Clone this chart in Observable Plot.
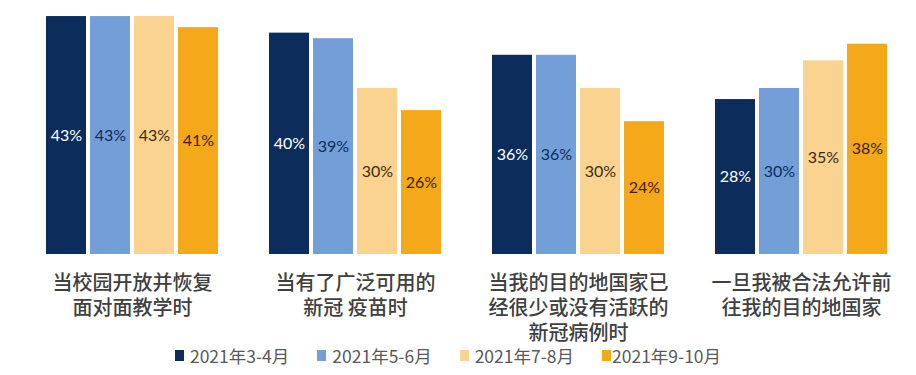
<!DOCTYPE html>
<html>
<head>
<meta charset="utf-8">
<script src="https://cdn.jsdelivr.net/npm/d3@7"></script>
<script src="https://cdn.jsdelivr.net/npm/@observablehq/plot@0.6"></script>
<style>
  html, body { margin: 0; padding: 0; background: #fff; }
  #chart { width: 916px; }
  .legend { display: flex; justify-content: center; align-items: center; height: 20px;
    font-family: "Noto Sans CJK SC", "Noto Sans", sans-serif; font-size: 17.5px; color: #595959; padding-right: 20px; }
  .legend .item { display: flex; align-items: center; margin: 0 14px; }
  .legend .sw { width: 9px; height: 11px; margin-right: 6px; }
  .legend .item:last-child .sw { margin-right: 1px; }
</style>
</head>
<body>
<div id="chart"></div>
<script>
const categories = [
  "当校园开放并恢复\n面对面教学时",
  "当有了广泛可用的\n新冠 疫苗时",
  "当我的目的地国家已\n经很少或没有活跃的\n新冠病例时",
  "一旦我被合法允许前\n往我的目的地国家"
];
const periods = ["2021年3-4月", "2021年5-6月", "2021年7-8月", "2021年9-10月"];
const colors = ["#0c2d5c", "#739ed8", "#f9d38f", "#f4a81a"];
const labelColors = ["#ffffff", "#0c2d5c", "#3b2a12", "#3b2208"];
const s1 = [43, 40, 36, 28];
const s2 = [43, 39, 36, 30];
const s3 = [43, 30, 30, 35];
const s4 = [41, 26, 24, 38];
const series = [s1, s2, s3, s4];

const data = [];
categories.forEach((c, i) => {
  periods.forEach((p, j) => {
    data.push({category: c, period: p, value: series[j][i], pi: j});
  });
});

const chart = Plot.plot({
  width: 916,
  height: 345,
  marginTop: 0,
  marginBottom: 91,
  marginLeft: 43,
  marginRight: 26,
  fx: {domain: categories, paddingInner: 0.2176, paddingOuter: 0, label: null},
  x: {domain: periods, paddingInner: 0.082, paddingOuter: 0, axis: null},
  y: {domain: [0, 45.9], axis: null},
  color: {domain: periods, range: colors},
  marks: [
    Plot.barY(data, {fx: "category", x: "period", y: "value", fill: "period"}),
    Plot.text(data, {
      fx: "category", x: "period", y: d => d.value / 2, text: d => d.value + "%",
      fill: d => labelColors[d.pi], fontSize: 16, fontFamily: "Lato, 'Open Sans', sans-serif", fontWeight: 400
    }),
    Plot.axisFx({anchor: "bottom", tickSize: 0, tickPadding: 18, fontSize: 20, lineHeight: 1.24,
      fontFamily: "'Noto Sans CJK SC', sans-serif", fontWeight: 500, fill: "#404040", label: null})
  ]
});
document.getElementById("chart").appendChild(chart);

const legend = document.createElement("div");
legend.className = "legend";
periods.forEach((p, j) => {
  const it = document.createElement("div");
  it.className = "item";
  const sw = document.createElement("span");
  sw.className = "sw";
  sw.style.background = colors[j];
  const t = document.createElement("span");
  t.textContent = p;
  it.appendChild(sw); it.appendChild(t);
  legend.appendChild(it);
});
document.getElementById("chart").appendChild(legend);
</script>
</body>
</html>
